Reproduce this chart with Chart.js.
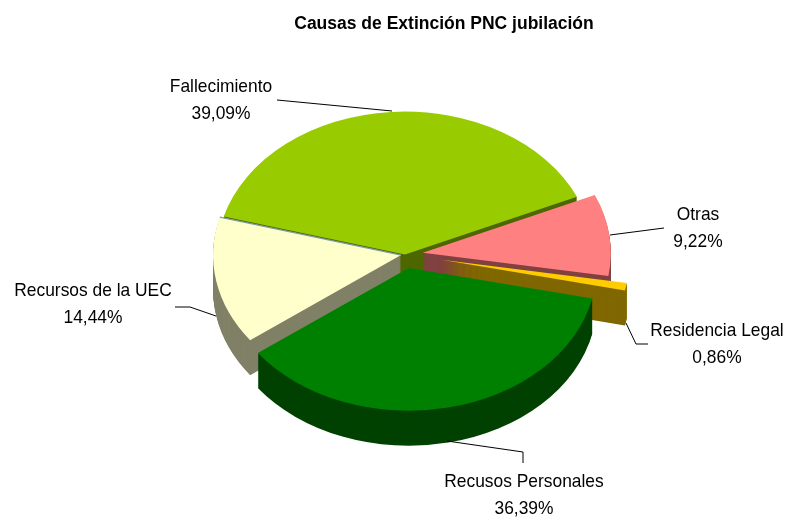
<!DOCTYPE html>
<html><head><meta charset="utf-8">
<style>html,body{margin:0;padding:0;background:#fff}canvas{display:block}</style>
<script src="https://cdn.jsdelivr.net/npm/chart.js@4"></script>
</head><body><canvas id="c" width="787" height="518"></canvas>
<script>
const titleText = 'Causas de Extinción PNC jubilación';
const categories = ['Fallecimiento','Otras','Residencia Legal','Recusos Personales','Recursos de la UEC'];
const values = [39.09,9.22,0.86,36.39,14.44];
const topColors = ['#99CC00','#FF8080','#FFCC00','#008000','#FFFFCC'];
const sideColors = ['#4D6600','#804040','#806600','#004000','#808066'];
const explode = [0,18,37,18,4];
const FONT = '"Liberation Sans",Arial,sans-serif';
const PIE = {cx:405, cy:254.5, radius:188, squash:0.76, depth:35, rotation:-74.6};
const labelBoxes = [
  {x:221,y:87},{x:698,y:215},{x:717,y:331},{x:524,y:482},{x:93,y:291}
];
const leaders = [
  [[277,100],[392,111]],
  [[610,235],[664,228]],
  [[626,323],[636,344],[648,344]],
  [[447,441],[523,452],[523,463]],
  [[175,307],[190,307],[216,316]]
];
function place(ctx,arc,i,dy){
  const mid=(arc.startAngle+arc.endAngle)/2, e=explode[i];
  ctx.translate(PIE.cx,PIE.cy+dy);
  ctx.scale(1,PIE.squash);
  ctx.translate(e*Math.cos(mid)-arc.x,e*Math.sin(mid)-arc.y);
}
function paint(ctx,arc,i,dy,color){
  const base=arc.options, o=Object.create(base);
  Object.defineProperty(o,'backgroundColor',{value:color});
  arc.options=o;
  ctx.save(); place(ctx,arc,i,dy); arc.draw(ctx); ctx.restore();
  arc.options=base;
}
const pie3d={
  id:'pie3d',
  beforeDatasetsDraw(chart){
    const ctx=chart.ctx, arcs=chart.getDatasetMeta(0).data;
    const off=document.createElement('canvas');
    off.width=chart.width; off.height=chart.height;
    const octx=off.getContext('2d');
    [0,4,1,2,3].forEach(i=>{
      octx.globalCompositeOperation='source-over';
      octx.clearRect(0,0,off.width,off.height);
      paint(octx,arcs[i],i,0,topColors[i]);
      octx.globalCompositeOperation='destination-over';
      for(let d=1;d<=PIE.depth;d++) paint(octx,arcs[i],i,d,sideColors[i]);
      ctx.drawImage(off,0,0);
      if(i===4){
        const a=arcs[4], end=a.endAngle;
        ctx.save(); place(ctx,a,4,0);
        ctx.beginPath(); ctx.moveTo(a.x,a.y);
        ctx.lineTo(a.x+a.outerRadius*Math.cos(end),a.y+a.outerRadius*Math.sin(end));
        ctx.restore();
        ctx.strokeStyle='#7E9AA8'; ctx.lineWidth=1.2; ctx.stroke();
      }
    });
    return false;
  },
  afterDraw(chart){
    const ctx=chart.ctx;
    ctx.save();
    ctx.strokeStyle='#000'; ctx.lineWidth=1;
    leaders.forEach(l=>{ctx.beginPath();l.forEach((p,k)=>k?ctx.lineTo(p[0],p[1]):ctx.moveTo(p[0],p[1]));ctx.stroke();});
    ctx.fillStyle='#000'; ctx.font='19px '+FONT; ctx.textAlign='center'; ctx.textBaseline='middle';
    const narrow=(t,x,y)=>{ctx.save();ctx.translate(x,y);ctx.scale(0.915,1);ctx.fillText(t,0,0);ctx.restore();};
    categories.forEach((c,i)=>{
      narrow(c,labelBoxes[i].x,labelBoxes[i].y);
      narrow(values[i].toFixed(2).replace('.',',')+'%',labelBoxes[i].x,labelBoxes[i].y+27);
    });
    ctx.restore();
  }
};
new Chart(document.getElementById('c'),{
  type:'pie',
  data:{labels:categories,datasets:[{data:values,backgroundColor:topColors,borderWidth:0}]},
  options:{
    responsive:false,animation:false,events:[],
    rotation:PIE.rotation,radius:PIE.radius,
    layout:{padding:{left:101,top:0}},
    plugins:{
      legend:{display:false},tooltip:{enabled:false},
      title:{display:true,text:titleText,color:'#000',font:{family:FONT,size:17.5,weight:'bold'},padding:{top:14,bottom:0}}
    }
  },
  plugins:[pie3d]
});
</script></body></html>
